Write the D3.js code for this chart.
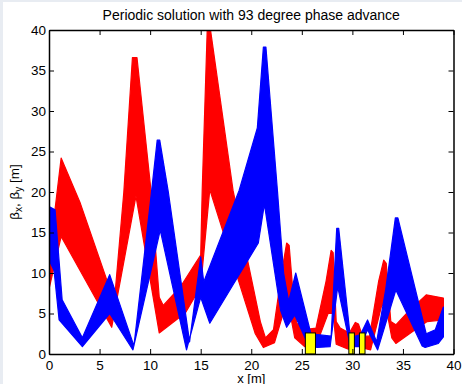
<!DOCTYPE html>
<html>
<head>
<meta charset="utf-8">
<script src="https://cdn.jsdelivr.net/npm/d3@7"></script>
<style>
  body { margin: 0; background: #fff; }
  text { font-family: "Liberation Sans", Arial, Helvetica, sans-serif; fill: #000; }
</style>
</head>
<body>
<svg id="chart" width="462" height="384"></svg>
<script>
// tick values
var xTicks = [0, 5, 10, 15, 20, 25, 30, 35, 40];
var yTicks = [0, 5, 10, 15, 20, 25, 30, 35, 40];

// beta_x envelope (upper and lower edge of the red band), [s, beta]
var betaXTop = [[0, 11.6], [1.2, 24.2], [3.1, 18.6], [5.7, 9.2], [6.5, 7.0], [7.4, 20.0], [8.25, 36.6], [8.7, 36.6],
  [10.1, 20.0], [10.9, 7.0], [11.3, 6.0], [13.0, 8.3], [15.0, 12.2], [15.15, 20.2], [15.65, 40.2], [15.95, 40.2],
  [18.2, 20.2], [20.9, 4.0], [21.4, 2.0], [22.2, 3.0], [23.0, 10.0], [23.5, 13.7], [23.75, 13.4], [24.2, 6.5],
  [24.5, 3.8], [25.3, 3.0], [26.4, 3.2], [27.4, 9.0], [27.9, 12.8], [28.1, 12.5], [28.4, 4.0], [28.8, 3.2],
  [29.7, 2.6], [30.3, 3.9], [30.6, 3.7], [31.0, 2.2], [31.7, 2.2], [32.6, 9.0], [33.1, 11.6], [33.35, 11.2],
  [33.8, 4.0], [34.3, 3.6], [35.5, 5.2], [37.3, 7.3], [39.0, 6.9]];
var betaXBottom = [[0, 8.0], [1.2, 14.5], [6.2, 3.3], [8.6, 19.5], [10.9, 2.6], [13.5, 5.1], [15.0, 8.3],
  [15.9, 20.3], [20.4, 2.5], [21.2, 0.8], [22.3, 1.4], [23.4, 6.0], [23.7, 6.0], [24.3, 2.0], [25.3, 0.9],
  [26.4, 1.0], [27.6, 5.0], [28.1, 5.0], [28.4, 1.2], [29.6, 0.6], [30.2, 2.3], [30.5, 2.3], [30.8, 0.8],
  [31.8, 0.5], [32.9, 6.0], [33.3, 6.0], [33.9, 2.0], [34.3, 1.3], [36.2, 3.0], [37.4, 4.0], [39.0, 4.2]];

// beta_y envelope (blue band)
var betaYTop = [[0, 18.2], [0.6, 17.8], [1.3, 6.7], [3.3, 2.0], [6.0, 9.8], [8.4, 1.0], [10.0, 18.5],
  [10.7, 26.4], [10.95, 26.4], [11.8, 20.0], [13.9, 1.5], [15.0, 12.0], [15.3, 8.9], [18.8, 20.2],
  [20.6, 27.9], [21.2, 37.9], [21.45, 37.9], [22.6, 20.0], [23.2, 10.0], [23.7, 6.5], [24.4, 10.0],
  [25.9, 2.5], [27.9, 2.2], [28.45, 15.5], [28.65, 15.5], [29.8, 2.0], [30.8, 2.4], [31.5, 4.2],
  [32.4, 1.5], [33.3, 8.0], [34.25, 16.8], [34.5, 16.8], [37.3, 2.5], [38.2, 3.0], [39.0, 5.8]];
var betaYBottom = [[0, 11.6], [0.5, 10.3], [1.0, 4.2], [3.3, 0.9], [6.0, 5.0], [8.3, 0.5], [11.0, 15.3], [13.6, 0.5],
  [15.0, 7.0], [15.9, 3.8], [20.7, 13.7], [21.3, 18.5], [22.9, 5.4], [23.5, 3.3], [24.3, 4.8], [25.6, 1.2],
  [26.5, 0.8], [27.8, 0.9], [28.55, 8.3], [29.8, 0.9], [30.8, 0.9], [31.5, 3.0], [32.5, 0.5], [34.3, 7.9],
  [36.9, 1.0], [37.2, 0.8], [38.5, 1.3], [39.0, 2.1]];

// magnets drawn as yellow boxes
var magnetStart = [25.35, 29.65, 30.7];
var magnetEnd = [26.35, 30.2, 31.25];
var magnetHeight = [2.6, 2.6, 2.6];

var svg = d3.select("#chart");
var margin = {top: 30, left: 49, bottom: 30, right: 8.5};
var W = 462, H = 384;

// light frame like the figure window
svg.append("rect").attr("width", W).attr("height", H).attr("fill", "#e8ecf2");
svg.append("rect").attr("x", 3).attr("y", 2).attr("width", W - 3).attr("height", H - 2).attr("fill", "#fff");

var xScale = d3.scaleLinear().domain([0, 40]).range([margin.left, W - margin.right]);
var yScale = d3.scaleLinear().domain([0, 40]).range([H - margin.bottom, margin.top]);

svg.append("clipPath").attr("id", "plotclip").append("rect")
  .attr("x", xScale(0)).attr("y", yScale(40))
  .attr("width", xScale(40) - xScale(0)).attr("height", yScale(0) - yScale(40));

var plot = svg.append("g").attr("clip-path", "url(#plotclip)");

var line = d3.line().x(function(d){ return xScale(d[0]); }).y(function(d){ return yScale(d[1]); });

function band(top, bottom, col){
  var pts = top.concat(bottom.slice().reverse());
  plot.append("path")
    .attr("d", line(pts) + "Z")
    .attr("fill", col)
    .attr("stroke", col)
    .attr("stroke-width", 1.2)
    .attr("stroke-linejoin", "round");
}
band(betaXTop, betaXBottom, "#ff0000");
band(betaYTop, betaYBottom, "#0000ff");

plot.selectAll("rect.magnet").data(magnetStart)
  .enter().append("rect")
  .attr("class", "magnet")
  .attr("x", function(d){ return xScale(d); })
  .attr("y", function(d,i){ return yScale(magnetHeight[i]); })
  .attr("width", function(d,i){ return xScale(magnetEnd[i]) - xScale(d); })
  .attr("height", function(d,i){ return yScale(0) - yScale(magnetHeight[i]); })
  .attr("fill", "#ffff00")
  .attr("stroke", "#000")
  .attr("stroke-width", 1);

// axes, matlab style: ticks inside, on all four sides
var fs = "13.5px";
var bottomAxis = svg.append("g").attr("transform", "translate(0," + yScale(0) + ")")
  .call(d3.axisBottom(xScale).tickValues(xTicks).tickSize(-5).tickSizeOuter(0).tickPadding(6));
var leftAxis = svg.append("g").attr("transform", "translate(" + xScale(0) + ",0)")
  .call(d3.axisLeft(yScale).tickValues(yTicks).tickSize(-5).tickSizeOuter(0).tickPadding(3));
var topAxis = svg.append("g").attr("transform", "translate(0," + yScale(40) + ")")
  .call(d3.axisTop(xScale).tickValues(xTicks).tickSize(-5).tickSizeOuter(0).tickFormat(""));
var rightAxis = svg.append("g").attr("transform", "translate(" + xScale(40) + ",0)")
  .call(d3.axisRight(yScale).tickValues(yTicks).tickSize(-5).tickSizeOuter(0).tickFormat(""));

[bottomAxis, leftAxis, topAxis, rightAxis].forEach(function(a){
  a.select(".domain").attr("stroke", "#000").attr("stroke-width", 1.5);
  a.selectAll(".tick line").attr("stroke", "#000").attr("stroke-width", 1);
  a.selectAll("text").style("font-size", fs).style("font-family", "Liberation Sans, Arial, sans-serif").attr("fill", "#000");
});

// title and labels
svg.append("text").attr("x", (xScale(0) + xScale(40)) / 2).attr("y", 20)
  .attr("text-anchor", "middle").style("font-size", "14px")
  .text("Periodic solution with 93 degree phase advance");

svg.append("text").attr("x", (xScale(0) + xScale(40)) / 2).attr("y", 382.5)
  .attr("text-anchor", "middle").style("font-size", "13px")
  .text("x [m]");

var yl = svg.append("text")
  .attr("transform", "translate(19," + (yScale(0) + yScale(40)) / 2 + ") rotate(-90)")
  .attr("text-anchor", "middle").style("font-size", "13.5px");
yl.append("tspan").text("\u03b2");
yl.append("tspan").attr("dy", 3).style("font-size", "10px").text("x");
yl.append("tspan").attr("dy", -3).text(", \u03b2");
yl.append("tspan").attr("dy", 3).style("font-size", "10px").text("y");
yl.append("tspan").attr("dy", -3).text(" [m]");
</script>
</body>
</html>
